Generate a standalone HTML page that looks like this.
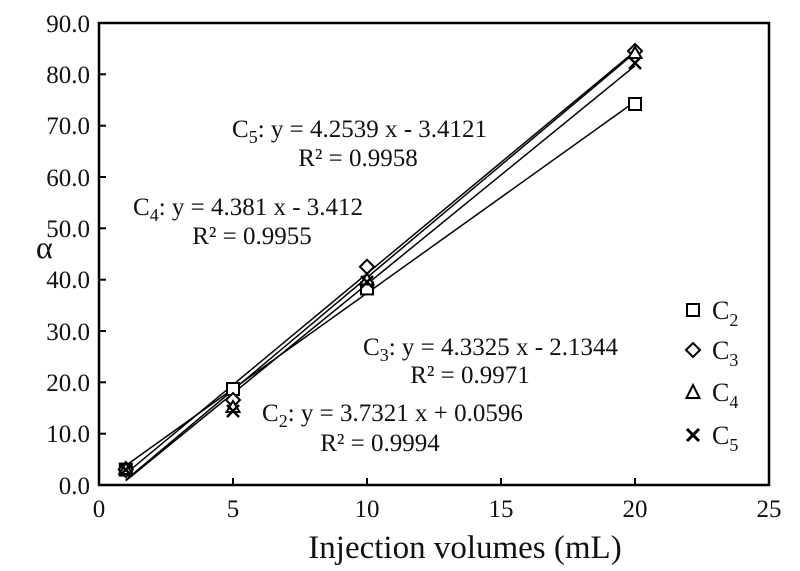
<!DOCTYPE html><html><head><style>body{margin:0;background:#fff}svg{display:block}text{font-family:"Liberation Serif",serif;fill:#111}</style></head><body>
<svg width="800" height="571" xmlns="http://www.w3.org/2000/svg">
<rect x="99" y="23" width="670" height="462" fill="none" stroke="#000" stroke-width="2.5"/>
<g stroke="#000" stroke-width="2">
<line x1="99" y1="433.7" x2="106" y2="433.7"/><line x1="99" y1="382.3" x2="106" y2="382.3"/><line x1="99" y1="331" x2="106" y2="331"/><line x1="99" y1="279.7" x2="106" y2="279.7"/><line x1="99" y1="228.3" x2="106" y2="228.3"/><line x1="99" y1="177" x2="106" y2="177"/><line x1="99" y1="125.7" x2="106" y2="125.7"/><line x1="99" y1="74.3" x2="106" y2="74.3"/>
<line x1="233" y1="485" x2="233" y2="478"/><line x1="367" y1="485" x2="367" y2="478"/><line x1="501" y1="485" x2="501" y2="478"/><line x1="635" y1="485" x2="635" y2="478"/>
</g>
<g font-size="25" text-anchor="end">
<text x="90" y="494">0.0</text><text x="90" y="442">10.0</text><text x="90" y="391">20.0</text><text x="90" y="340">30.0</text><text x="90" y="288">40.0</text><text x="90" y="237">50.0</text><text x="90" y="186">60.0</text><text x="90" y="134">70.0</text><text x="90" y="83">80.0</text><text x="90" y="32">90.0</text>
</g>
<g font-size="25" text-anchor="middle">
<text x="99" y="517">0</text><text x="233" y="517">5</text><text x="367" y="517">10</text><text x="501" y="517">15</text><text x="635" y="517">20</text><text x="769" y="517">25</text>
</g>
<text x="465" y="558" font-size="33" text-anchor="middle">Injection volumes (mL)</text>
<text x="36" y="258" font-size="32">α</text>
<g stroke="#000" stroke-width="1.5">
<line x1="125.8" y1="465.5" x2="635" y2="101.6"/>
<line x1="125.8" y1="473.7" x2="635" y2="51.2"/>
<line x1="125.8" y1="480" x2="635" y2="52.7"/>
<line x1="125.8" y1="480.7" x2="635" y2="65.8"/>
</g>
<g fill="#fff" stroke="#000" stroke-width="2">
<rect x="119.8" y="463.6" width="12" height="12"/><rect x="227" y="383" width="12" height="12"/><rect x="361" y="282.4" width="12" height="12"/><rect x="629" y="98" width="12" height="12"/>
<path d="M125.8 462l7 7.5-7 7.5-7-7.5z M233 393l7 7-7 7-7-7z M367 259.8l7 7-7 7-7-7z M635 44l7 7-7 7-7-7z"/>
<path d="M125.8 463l6.5 11h-13z M233 401l6.5 11h-13z M367 273.5l6.5 11h-13z M635 47l6.5 11h-13z"/>
<path d="M120 464l11.5 11.5M131.5 464l-11.5 11.5 M227 405l12 12M239 405l-12 12 M361 276l12 12M373 276l-12 12 M629 57l12 12M641 57l-12 12" stroke-width="2.5"/>
</g>
<g fill="#fff" stroke="#000" stroke-width="2">
<rect x="687" y="304" width="12" height="12"/>
<path d="M693 343l7 7-7 7-7-7z"/>
<path d="M693 385l6.5 13h-13z"/>
<path d="M687 429l12 12M699 429l-12 12" stroke-width="3"/>
</g>
<g font-size="26">
<text x="712" y="319">C<tspan font-size="18" dy="7">2</tspan></text>
<text x="712" y="359">C<tspan font-size="18" dy="7">3</tspan></text>
<text x="712" y="401">C<tspan font-size="18" dy="7">4</tspan></text>
<text x="712" y="444">C<tspan font-size="18" dy="7">5</tspan></text>
</g>
<g font-size="25">
<text x="232" y="137">C<tspan font-size="18" dy="6">5</tspan><tspan dy="-6">: y = 4.2539 x - 3.4121</tspan></text>
<text x="358" y="166" text-anchor="middle">R² = 0.9958</text>
<text x="133" y="215">C<tspan font-size="18" dy="6">4</tspan><tspan dy="-6">: y = 4.381 x - 3.412</tspan></text>
<text x="252" y="244" text-anchor="middle">R² = 0.9955</text>
<text x="363" y="355">C<tspan font-size="18" dy="6">3</tspan><tspan dy="-6">: y = 4.3325 x - 2.1344</tspan></text>
<text x="470" y="383" text-anchor="middle">R² = 0.9971</text>
<text x="262" y="421">C<tspan font-size="18" dy="6">2</tspan><tspan dy="-6">: y = 3.7321 x + 0.0596</tspan></text>
<text x="380" y="451" text-anchor="middle">R² = 0.9994</text>
</g>
</svg></body></html>
